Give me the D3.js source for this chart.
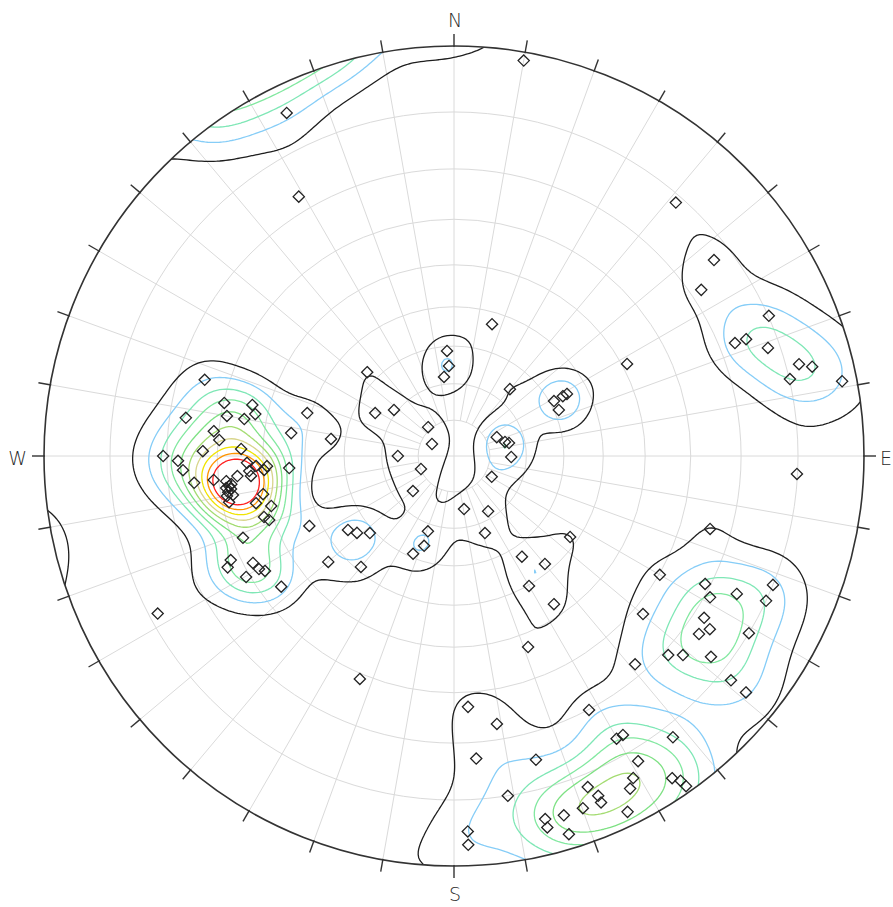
<!DOCTYPE html>
<html>
<head>
<meta charset="utf-8">
<script src="https://cdn.jsdelivr.net/npm/d3@7"></script>
<style>
  html, body { margin: 0; padding: 0; background: #fff; }
  svg { display: block; }
</style>
</head>
<body>
<svg id="net" width="893" height="907"></svg>
<script>
// Poles on the lower hemisphere: trend (degrees clockwise from north) and plunge (degrees)
const trends = [
  334.0, 329.1, 10.0, 41.2, 53.0, 56.1, 66.0, 68.1, 68.2, 71.0,
  75.1, 76.0, 77.1, 79.1, 62.0, 16.1, 93.0, 105.9, 120.0, 117.0,
  112.0, 114.9, 118.9, 116.0, 129.9, 122.9, 124.1, 126.0, 121.0, 132.9,
  131.0, 128.0, 139.0, 129.0, 129.0, 152.0, 170.9, 176.8, 175.8, 164.9,
  150.1, 148.8, 142.1, 148.9, 150.9, 152.1, 158.0, 157.0, 157.0, 159.9,
  154.0, 163.0, 165.9, 165.9, 163.1, 171.0, 145.9, 145.1, 144.9, 177.9,
  177.9, 202.9, 158.8, 146.0, 356.2, 356.8, 352.8, 314.0, 39.9, 298.6,
  307.5, 318.1, 298.6, 270.0, 248.5, 229.5, 277.9, 66.2, 74.6, 76.7,
  91.0, 118.9, 61.2, 66.3, 61.2, 61.2, 169.3, 148.3, 158.1, 124.9,
  146.0, 139.9, 150.0, 235.1, 231.6, 227.5, 199.1, 198.4, 202.7, 229.9,
  220.0, 287.0, 283.0, 284.2, 281.9, 280.0, 280.0, 278.1, 286.3, 275.9,
  273.9, 278.0, 271.1, 271.9, 270.0, 269.0, 267.0, 264.1, 268.1, 267.1,
  266.9, 265.8, 265.8, 264.4, 264.7, 265.8, 264.3, 263.7, 262.4, 261.6,
  260.9, 260.0, 258.4, 258.7, 256.6, 254.7, 252.2, 250.9, 244.2, 248.8,
  245.0, 243.8, 242.0, 239.9, 238.7, 239.8, 232.9, 242.0, 262.8, 262.0,
  260.0
];
const plunges = [
  4.1, 17.2, 1.2, 11.2, 13.1, 18.0, 9.9, 17.1, 15.0, 12.0,
  7.9, 6.0, 9.9, 2.1, 38.9, 53.0, 10.1, 24.0, 29.8, 21.0,
  10.0, 10.0, 19.0, 15.0, 28.0, 18.0, 16.0, 17.1, 10.0, 19.0,
  17.0, 13.0, 22.1, 8.0, 5.0, 19.9, 23.0, 27.0, 17.0, 15.0,
  13.0, 13.0, 8.0, 8.0, 6.1, 4.9, 7.9, 6.0, 4.9, 5.1,
  2.0, 5.0, 5.2, 3.9, 2.1, 10.0, 3.0, 2.0, 0.9, 5.0,
  3.0, 28.9, 36.9, 42.9, 61.2, 65.2, 68.0, 57.2, 66.0, 65.3,
  69.1, 79.2, 83.0, 74.4, 80.1, 75.0, 56.3, 77.0, 75.3, 74.3,
  74.1, 78.0, 58.9, 58.8, 56.3, 55.1, 75.0, 72.0, 67.1, 51.9,
  57.0, 52.0, 49.8, 55.0, 56.4, 58.9, 68.0, 64.0, 61.0, 46.3,
  51.1, 25.1, 30.2, 36.2, 37.3, 31.3, 35.1, 23.1, 49.1, 29.0,
  30.3, 46.3, 27.0, 35.1, 19.3, 22.1, 23.0, 25.0, 36.4, 38.4,
  40.9, 40.2, 36.8, 37.1, 34.1, 46.1, 29.0, 31.6, 32.1, 32.4,
  31.7, 31.3, 31.5, 39.2, 37.2, 40.4, 38.1, 39.0, 47.2, 32.2,
  28.0, 26.8, 31.9, 32.4, 33.3, 29.2, 34.3, 11.4, 32.6, 31.4,
  32.6
];

// Density contours, in multiples of a uniform distribution
const contourLevels = [1, 2, 3, 4, 5, 6, 7, 8, 9, 10];
const contourColors = ["#1e1e1e", "#86cdf7", "#7fe7b6", "#82e8a0", "#7ee184", "#a4dc72",
                       "#d8d58c", "#f0e400", "#ff9400", "#ff1e1e"];
const smoothingKappa = 120;

// Net grid and labels
const gridPlunges = [10, 20, 30, 40, 50, 60, 70, 80];
const gridAzimuths = d3.range(0, 360, 10);
const tickAzimuths = d3.range(0, 360, 10);
const cardinalLabels = ["N", "E", "S", "W"];

const cx = 454, cy = 456, R = 410;
const rad = Math.PI / 180;
const svg = d3.select("#net");

// Equal-angle (stereographic) radial scale: tan of half the angle from the nadir
const rScale = d3.scaleLinear().domain([0, 1]).range([0, R]);
const radius = p => rScale(Math.tan((90 - p) * rad / 2));
const project = (t, p) => {
  const r = radius(p);
  return [cx + r * Math.sin(t * rad), cy - r * Math.cos(t * rad)];
};

const poles = trends.map((t, i) => [t, plunges[i]]);

// ---- grid ----
const grid = svg.append("g").attr("fill", "none").attr("stroke", "#dadada").attr("stroke-width", 1);
gridPlunges.forEach(p => {
  grid.append("circle").attr("cx", cx).attr("cy", cy).attr("r", radius(p));
});
gridAzimuths.forEach(a => {
  const r0 = (a % 90 === 0) ? 0 : radius(80);
  grid.append("line")
    .attr("x1", cx + r0 * Math.sin(a * rad)).attr("y1", cy - r0 * Math.cos(a * rad))
    .attr("x2", cx + R * Math.sin(a * rad)).attr("y2", cy - R * Math.cos(a * rad));
});

// ---- density (Fisher kernel, axial) ----
const vecs = poles.map(([t, p]) => [
  Math.cos(p * rad) * Math.sin(t * rad),
  Math.cos(p * rad) * Math.cos(t * rad),
  -Math.sin(p * rad)
]);
const step = 3, ext = R * 1.08;
const n = Math.ceil(2 * ext / step);
const x0 = cx - ext, y0 = cy - ext;
const values = new Float64Array(n * n);
const norm = smoothingKappa / poles.length;
for (let j = 0; j < n; j++) {
  const py = y0 + (j + 0.5) * step;
  for (let i = 0; i < n; i++) {
    const px = x0 + (i + 0.5) * step;
    const dx = (px - cx) / R, dy = (cy - py) / R;
    const t2 = dx * dx + dy * dy, q = 1 + t2;
    const ux = 2 * dx / q, uy = 2 * dy / q, uz = -(1 - t2) / q;
    let s = 0;
    for (const v of vecs) {
      const c = Math.abs(ux * v[0] + uy * v[1] + uz * v[2]);
      s += Math.exp(smoothingKappa * (c - 1));
    }
    values[j * n + i] = s * norm;
  }
}
const contours = d3.contours().size([n, n]).thresholds(contourLevels)(values);
const contourPath = d3.geoPath(d3.geoIdentity().scale(step).translate([x0, y0]));

svg.append("clipPath").attr("id", "prim")
  .append("circle").attr("cx", cx).attr("cy", cy).attr("r", R);

svg.append("g").attr("clip-path", "url(#prim)")
  .selectAll("path").data(contours).join("path")
  .attr("d", contourPath)
  .attr("fill", "none")
  .attr("stroke", (d, i) => contourColors[i])
  .attr("stroke-width", 1.3)
  .attr("stroke-linejoin", "round");

// ---- primitive circle and ticks ----
svg.append("circle").attr("cx", cx).attr("cy", cy).attr("r", R)
  .attr("fill", "none").attr("stroke", "#333").attr("stroke-width", 1.6);
svg.append("g").attr("stroke", "#333").attr("stroke-width", 1.4)
  .selectAll("line").data(tickAzimuths).join("line")
  .attr("x1", a => cx + (R - 1) * Math.sin(a * rad)).attr("y1", a => cy - (R - 1) * Math.cos(a * rad))
  .attr("x2", a => cx + (R + 12) * Math.sin(a * rad)).attr("y2", a => cy - (R + 12) * Math.cos(a * rad));

// ---- cardinal labels ----
const labelPos = {
  N: { x: cx + 1, y: 27, anchor: "middle" },
  E: { x: 880, y: 465, anchor: "start" },
  S: { x: cx + 1, y: 901, anchor: "middle" },
  W: { x: 27, y: 465, anchor: "end" }
};
svg.append("g").selectAll("text").data(cardinalLabels).join("text")
  .attr("x", d => labelPos[d].x).attr("y", d => labelPos[d].y)
  .attr("text-anchor", d => labelPos[d].anchor)
  .attr("font-family", "DejaVu Sans, sans-serif")
  .attr("font-weight", 300)
  .attr("font-size", 19)
  .attr("fill", "#2a2a2a")
  .text(d => d);

// ---- poles as diamonds ----
const h = 5.6;
svg.append("g").selectAll("path").data(poles).join("path")
  .attr("transform", d => { const [x, y] = project(d[0], d[1]); return `translate(${x},${y})`; })
  .attr("d", `M0,${-h}L${h},0L0,${h}L${-h},0Z`)
  .attr("fill", "none")
  .attr("stroke", "#222")
  .attr("stroke-width", 1.3);
</script>
</body>
</html>
